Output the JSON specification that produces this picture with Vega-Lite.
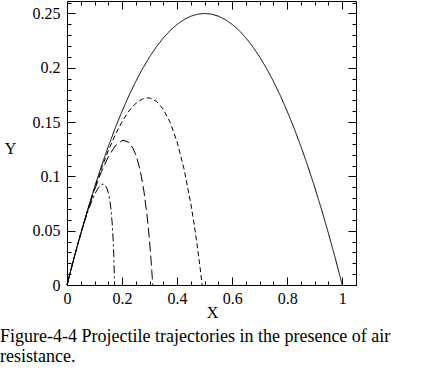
{
  "$schema": "https://vega.github.io/schema/vega-lite/v6.json",
  "width": 289,
  "height": 284,
  "autosize": {"type": "none"},
  "padding": {"left": 67, "top": 1, "right": 85, "bottom": 85},
  "background": "white",
  "config": {
    "view": {"stroke": null},
    "axis": {
      "grid": false,
      "domainColor": "black",
      "domainWidth": 1,
      "tickColor": "black",
      "tickWidth": 1,
      "labelColor": "black",
      "labelFont": "Liberation Serif",
      "labelFontSize": 16,
      "labelOverlap": false,
      "labelFlush": false,
      "titleFont": "Liberation Serif",
      "titleFontSize": 16,
      "titleFontWeight": "normal",
      "titleColor": "black"
    }
  },
  "title": {
    "text": ["Figure-4-4 Projectile trajectories in the presence of air", "resistance."],
    "orient": "bottom",
    "anchor": "start",
    "frame": "group",
    "dx": -67,
    "offset": 8,
    "font": "Liberation Serif",
    "fontSize": 18,
    "fontWeight": "normal",
    "lineHeight": 20,
    "color": "black"
  },
  "data": {
    "values": [
      {"curve": "a", "x": 0, "y": 0},
      {"curve": "a", "x": 0.025, "y": 0.0244},
      {"curve": "a", "x": 0.05, "y": 0.0475},
      {"curve": "a", "x": 0.075, "y": 0.0694},
      {"curve": "a", "x": 0.1, "y": 0.09},
      {"curve": "a", "x": 0.125, "y": 0.1094},
      {"curve": "a", "x": 0.15, "y": 0.1275},
      {"curve": "a", "x": 0.175, "y": 0.1444},
      {"curve": "a", "x": 0.2, "y": 0.16},
      {"curve": "a", "x": 0.225, "y": 0.1744},
      {"curve": "a", "x": 0.25, "y": 0.1875},
      {"curve": "a", "x": 0.275, "y": 0.1994},
      {"curve": "a", "x": 0.3, "y": 0.21},
      {"curve": "a", "x": 0.325, "y": 0.2194},
      {"curve": "a", "x": 0.35, "y": 0.2275},
      {"curve": "a", "x": 0.375, "y": 0.2344},
      {"curve": "a", "x": 0.4, "y": 0.24},
      {"curve": "a", "x": 0.425, "y": 0.2444},
      {"curve": "a", "x": 0.45, "y": 0.2475},
      {"curve": "a", "x": 0.475, "y": 0.2494},
      {"curve": "a", "x": 0.5, "y": 0.25},
      {"curve": "a", "x": 0.525, "y": 0.2494},
      {"curve": "a", "x": 0.55, "y": 0.2475},
      {"curve": "a", "x": 0.575, "y": 0.2444},
      {"curve": "a", "x": 0.6, "y": 0.24},
      {"curve": "a", "x": 0.625, "y": 0.2344},
      {"curve": "a", "x": 0.65, "y": 0.2275},
      {"curve": "a", "x": 0.675, "y": 0.2194},
      {"curve": "a", "x": 0.7, "y": 0.21},
      {"curve": "a", "x": 0.725, "y": 0.1994},
      {"curve": "a", "x": 0.75, "y": 0.1875},
      {"curve": "a", "x": 0.775, "y": 0.1744},
      {"curve": "a", "x": 0.8, "y": 0.16},
      {"curve": "a", "x": 0.825, "y": 0.1444},
      {"curve": "a", "x": 0.85, "y": 0.1275},
      {"curve": "a", "x": 0.875, "y": 0.1094},
      {"curve": "a", "x": 0.9, "y": 0.09},
      {"curve": "a", "x": 0.925, "y": 0.0694},
      {"curve": "a", "x": 0.95, "y": 0.0475},
      {"curve": "a", "x": 0.975, "y": 0.0244},
      {"curve": "a", "x": 1, "y": 0},
      {"curve": "b", "x": 0, "y": 0},
      {"curve": "b", "x": 0.025, "y": 0.0244},
      {"curve": "b", "x": 0.05, "y": 0.0474},
      {"curve": "b", "x": 0.075, "y": 0.0689},
      {"curve": "b", "x": 0.1, "y": 0.0889},
      {"curve": "b", "x": 0.125, "y": 0.1072},
      {"curve": "b", "x": 0.15, "y": 0.1237},
      {"curve": "b", "x": 0.175, "y": 0.1382},
      {"curve": "b", "x": 0.2, "y": 0.1504},
      {"curve": "b", "x": 0.225, "y": 0.1602},
      {"curve": "b", "x": 0.25, "y": 0.1673},
      {"curve": "b", "x": 0.275, "y": 0.1714},
      {"curve": "b", "x": 0.2929, "y": 0.1723},
      {"curve": "b", "x": 0.3, "y": 0.1722},
      {"curve": "b", "x": 0.325, "y": 0.1691},
      {"curve": "b", "x": 0.35, "y": 0.1618},
      {"curve": "b", "x": 0.375, "y": 0.1496},
      {"curve": "b", "x": 0.4, "y": 0.1317},
      {"curve": "b", "x": 0.425, "y": 0.1071},
      {"curve": "b", "x": 0.45, "y": 0.0747},
      {"curve": "b", "x": 0.46, "y": 0.0592},
      {"curve": "b", "x": 0.47, "y": 0.042},
      {"curve": "b", "x": 0.48, "y": 0.0231},
      {"curve": "b", "x": 0.485, "y": 0.0129},
      {"curve": "b", "x": 0.49, "y": 0.0022},
      {"curve": "b", "x": 0.491, "y": 0},
      {"curve": "c", "x": 0, "y": 0},
      {"curve": "c", "x": 0.025, "y": 0.0243},
      {"curve": "c", "x": 0.05, "y": 0.0472},
      {"curve": "c", "x": 0.075, "y": 0.0684},
      {"curve": "c", "x": 0.1, "y": 0.0876},
      {"curve": "c", "x": 0.125, "y": 0.1043},
      {"curve": "c", "x": 0.15, "y": 0.118},
      {"curve": "c", "x": 0.175, "y": 0.128},
      {"curve": "c", "x": 0.2, "y": 0.1329},
      {"curve": "c", "x": 0.2071, "y": 0.1332},
      {"curve": "c", "x": 0.225, "y": 0.1312},
      {"curve": "c", "x": 0.24, "y": 0.1258},
      {"curve": "c", "x": 0.25, "y": 0.1198},
      {"curve": "c", "x": 0.26, "y": 0.1115},
      {"curve": "c", "x": 0.27, "y": 0.1003},
      {"curve": "c", "x": 0.28, "y": 0.0855},
      {"curve": "c", "x": 0.29, "y": 0.066},
      {"curve": "c", "x": 0.295, "y": 0.0541},
      {"curve": "c", "x": 0.3, "y": 0.0403},
      {"curve": "c", "x": 0.305, "y": 0.0243},
      {"curve": "c", "x": 0.308, "y": 0.0135},
      {"curve": "c", "x": 0.31, "y": 0.0057},
      {"curve": "c", "x": 0.3114, "y": 0},
      {"curve": "d", "x": 0, "y": 0},
      {"curve": "d", "x": 0.0125, "y": 0.0123},
      {"curve": "d", "x": 0.025, "y": 0.0243},
      {"curve": "d", "x": 0.0375, "y": 0.0359},
      {"curve": "d", "x": 0.05, "y": 0.0469},
      {"curve": "d", "x": 0.0625, "y": 0.0573},
      {"curve": "d", "x": 0.075, "y": 0.067},
      {"curve": "d", "x": 0.0875, "y": 0.0757},
      {"curve": "d", "x": 0.1, "y": 0.0832},
      {"curve": "d", "x": 0.1125, "y": 0.089},
      {"curve": "d", "x": 0.125, "y": 0.0924},
      {"curve": "d", "x": 0.1306, "y": 0.0929},
      {"curve": "d", "x": 0.135, "y": 0.0926},
      {"curve": "d", "x": 0.14, "y": 0.0914},
      {"curve": "d", "x": 0.145, "y": 0.089},
      {"curve": "d", "x": 0.15, "y": 0.0851},
      {"curve": "d", "x": 0.155, "y": 0.0789},
      {"curve": "d", "x": 0.16, "y": 0.0694},
      {"curve": "d", "x": 0.165, "y": 0.054},
      {"curve": "d", "x": 0.168, "y": 0.0397},
      {"curve": "d", "x": 0.17, "y": 0.0263},
      {"curve": "d", "x": 0.171, "y": 0.0176},
      {"curve": "d", "x": 0.172, "y": 0.0071},
      {"curve": "d", "x": 0.1726, "y": 0}
    ]
  },
  "layer": [
    {
      "mark": {"type": "line", "strokeWidth": 1, "color": "black"},
      "encoding": {
        "x": {
          "field": "x", "type": "quantitative",
          "scale": {"domain": [0, 1.05], "nice": false, "zero": false},
          "axis": {
            "orient": "bottom",
            "values": [0, 0.05, 0.1, 0.15, 0.2, 0.25, 0.3, 0.35, 0.4, 0.45, 0.5, 0.55, 0.6, 0.65, 0.7, 0.75, 0.8, 0.85, 0.9, 0.95, 1, 1.05],
            "tickSize": {"condition": {"test": "abs(datum.value*5-round(datum.value*5))<1e-6", "value": -8}, "value": -4},
            "labelExpr": "abs(datum.value*5-round(datum.value*5))<1e-6 ? toString(round(datum.value*10)/10) : ''",
            "labelFont": "Liberation Serif",
            "labelFontSize": 16,
            "labelPadding": 13,
            "encode": {"labels": {"update": {"font": {"value": "Liberation Serif"}}}},
            "title": "X",
            "titleX": 145,
            "titleY": 32,
            "titleAlign": "center",
            "titleBaseline": "alphabetic"
          }
        },
        "y": {
          "field": "y", "type": "quantitative",
          "scale": {"domain": [0, 0.2615], "nice": false, "zero": false},
          "axis": {
            "orient": "left",
            "values": [0, 0.01, 0.02, 0.03, 0.04, 0.05, 0.06, 0.07, 0.08, 0.09, 0.1, 0.11, 0.12, 0.13, 0.14, 0.15, 0.16, 0.17, 0.18, 0.19, 0.2, 0.21, 0.22, 0.23, 0.24, 0.25, 0.26],
            "tickSize": {"condition": {"test": "abs(datum.value*20-round(datum.value*20))<1e-6", "value": -8}, "value": -4},
            "labelExpr": "abs(datum.value*20-round(datum.value*20))<1e-6 ? toString(round(datum.value*100)/100) : ''",
            "labelFont": "Liberation Serif",
            "labelFontSize": 16,
            "labelPadding": 15,
            "encode": {"labels": {"update": {"font": {"value": "Liberation Serif"}}}},
            "title": "Y",
            "titleAngle": 0,
            "titleAlign": "center",
            "titleBaseline": "middle",
            "titleX": -57,
            "titleY": 147
          }
        },
        "strokeDash": {
          "field": "curve", "type": "nominal",
          "scale": {"domain": ["a", "b", "c", "d"], "range": [[1, 0], [5, 3], [10, 4], [8, 3, 2, 3]]},
          "legend": null
        }
      }
    },
    {
      "mark": {"type": "point", "opacity": 0},
      "encoding": {
        "x": {
          "field": "x", "type": "quantitative",
          "axis": {
            "orient": "top",
            "values": [0, 0.05, 0.1, 0.15, 0.2, 0.25, 0.3, 0.35, 0.4, 0.45, 0.5, 0.55, 0.6, 0.65, 0.7, 0.75, 0.8, 0.85, 0.9, 0.95, 1, 1.05],
            "tickSize": {"condition": {"test": "abs(datum.value*5-round(datum.value*5))<1e-6", "value": -8}, "value": -4},
            "labels": false,
            "title": null
          }
        },
        "y": {
          "field": "y", "type": "quantitative",
          "axis": {
            "orient": "right",
            "values": [0, 0.01, 0.02, 0.03, 0.04, 0.05, 0.06, 0.07, 0.08, 0.09, 0.1, 0.11, 0.12, 0.13, 0.14, 0.15, 0.16, 0.17, 0.18, 0.19, 0.2, 0.21, 0.22, 0.23, 0.24, 0.25, 0.26],
            "tickSize": {"condition": {"test": "abs(datum.value*20-round(datum.value*20))<1e-6", "value": -8}, "value": -4},
            "labels": false,
            "title": null
          }
        }
      }
    }
  ],
  "resolve": {"axis": {"x": "independent", "y": "independent"}}
}
